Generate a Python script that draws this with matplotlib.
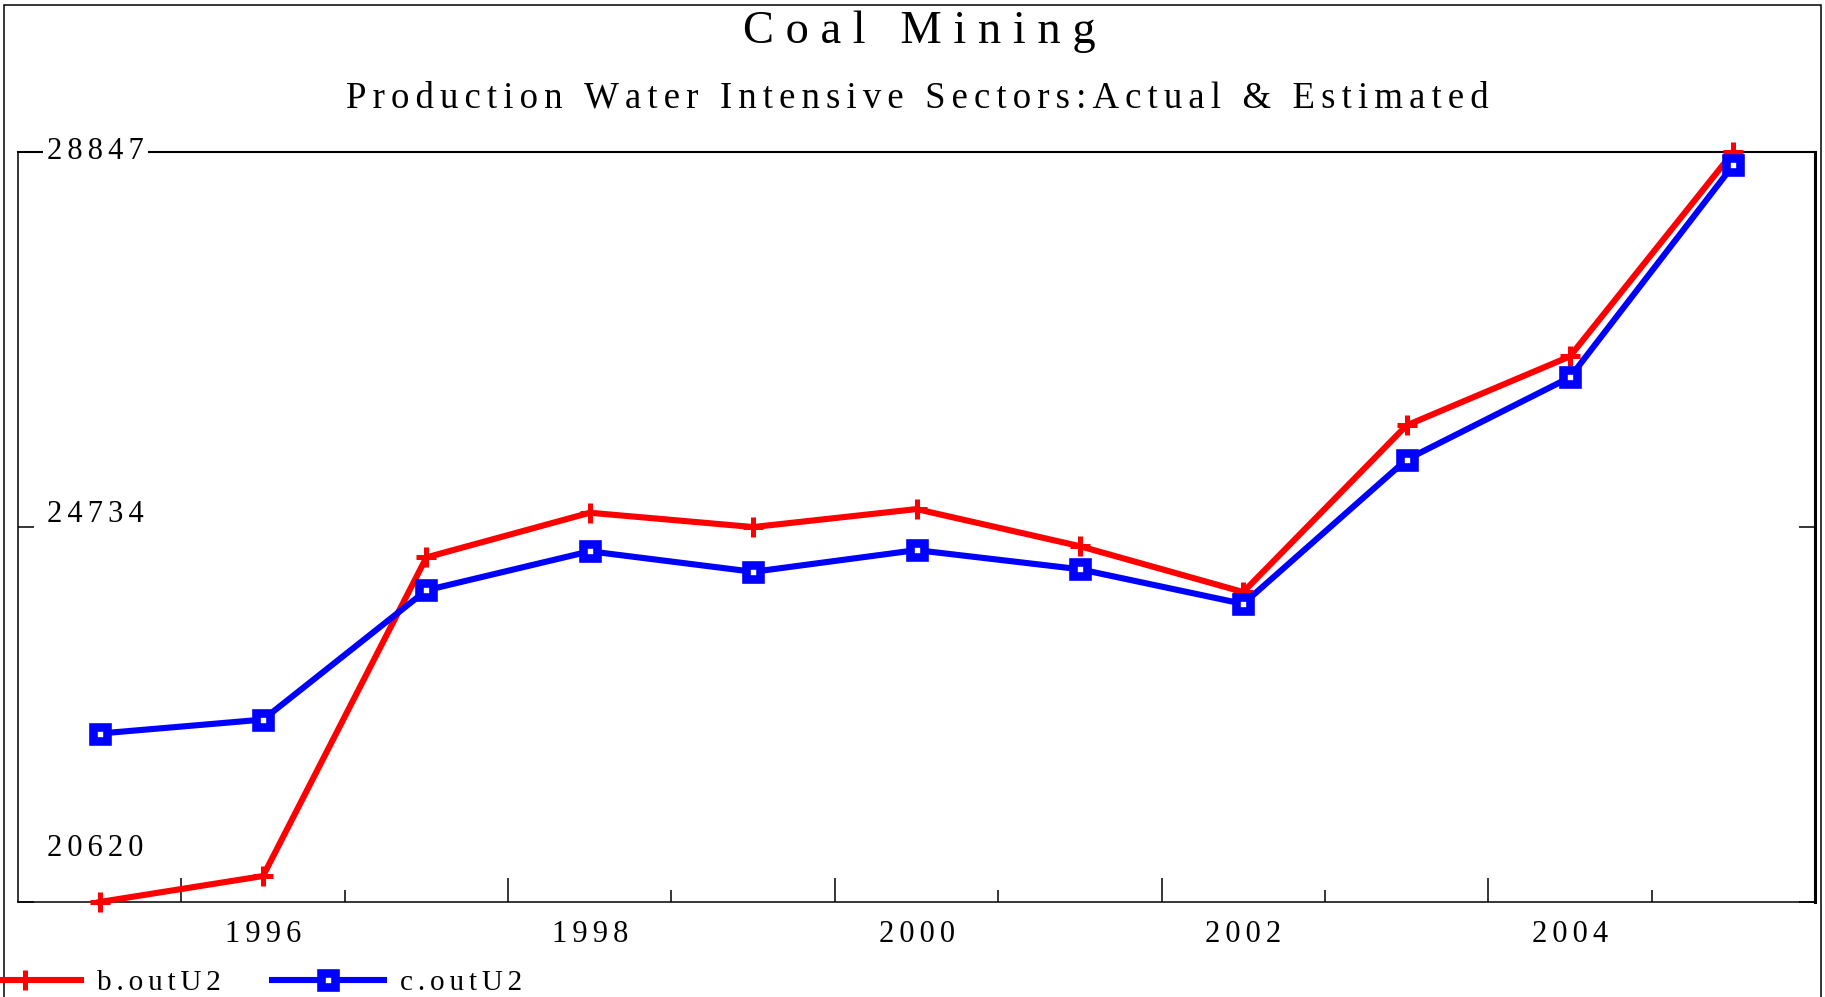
import matplotlib
matplotlib.use('Agg')
import matplotlib.pyplot as plt
import matplotlib.transforms as mtransforms
from matplotlib.patches import Rectangle

# data
years = [1995, 1996, 1997, 1998, 1999, 2000, 2001, 2002, 2003, 2004, 2005]
actual = [20620, 20905, 24400, 24890, 24733, 24930, 24523, 24020, 25848, 26605, 28847]
estimated = [22468, 22621, 24040, 24467, 24242, 24480, 24270, 23890, 25473, 26375, 28704]

y_ticks = [20620, 24734, 28847]
label_years = [1996, 1998, 2000, 2002, 2004]
long_ticks = [1995.5, 1997.5, 1999.5, 2001.5, 2003.5]
short_ticks = [1996.5, 1998.5, 2000.5, 2002.5, 2004.5]

plt.rcParams['font.family'] = ['Liberation Serif', 'DejaVu Serif']


def spaced(s, gap='\u2006'):
    # fake the wide letter spacing of the original
    return gap.join(s)


W, H = 1825, 997
fig = plt.figure(figsize=(W / 100, H / 100), dpi=100)
ax = fig.add_axes([18 / W, 1 - 902 / H, (1815 - 18) / W, (902 - 152) / H])

ax.plot(years, actual, color='red', lw=4.4, marker='+', ms=15, mew=3.6,
        clip_on=False, zorder=3, label=spaced('b.outU2'))
ax.plot(years, estimated, color='blue', lw=4.4, marker='s', ms=9.5, mew=6.2,
        mfc='white', mec='blue', clip_on=False, zorder=4, label=spaced('c.outU2'))

ax.set_xlim(1994.5, 2005.5)
ax.set_ylim(y_ticks[0], y_ticks[-1])

# x ticks: long and short marks between years, labels on the years
ax.set_xticks(long_ticks)
ax.set_xticks(short_ticks, minor=True)
ax.tick_params(axis='x', which='major', direction='in', length=17.3, width=1.1,
               labelbottom=False)
ax.tick_params(axis='x', which='minor', direction='in', length=8.3, width=1.1)

sec = ax.secondary_xaxis('bottom')
sec.set_xticks(label_years, labels=[spaced(str(y)) for y in label_years])
sec.tick_params(length=0, pad=13, labelsize=22)
for sp in sec.spines.values():
    sp.set_visible(False)

# y ticks on both sides, labels drawn as text inside the frame
ax.set_yticks(y_ticks)
ax.tick_params(axis='y', direction='in', length=11.5, width=1.1, labelleft=False,
               right=True)

ytrans = ax.get_yaxis_transform()
ax.text(0, y_ticks[2], spaced(str(y_ticks[2])), fontsize=22, va='center', ha='left',
        transform=mtransforms.offset_copy(ytrans, fig=fig, x=29, y=0, units='dots'),
        bbox=dict(fc='white', ec='none', pad=3), zorder=6, clip_on=False)
ax.text(0, y_ticks[1], spaced(str(y_ticks[1])), fontsize=22, va='baseline', ha='left',
        transform=mtransforms.offset_copy(ytrans, fig=fig, x=29, y=5, units='dots'))
ax.text(0, y_ticks[0], spaced(str(y_ticks[0])), fontsize=22, va='baseline', ha='left',
        transform=mtransforms.offset_copy(ytrans, fig=fig, x=29, y=46, units='dots'))

ax.spines['left'].set_linewidth(1.1)
ax.spines['bottom'].set_linewidth(1.1)
ax.spines['top'].set_linewidth(1.5)
ax.spines['right'].set_linewidth(2.2)

# titles
fig.text(919 / W, 1 - 43 / H, spaced('Coal Mining', '\u2005'), fontsize=33.5,
         ha='center', va='baseline')
fig.text(917 / W, 1 - 108 / H,
         spaced('Production Water Intensive Sectors:Actual & Estimated'),
         fontsize=26.5, ha='center', va='baseline')

# outer frame
fig.add_artist(Rectangle((4 / W, -0.05), (1821 - 4) / W, 1.05 - 5 / H,
                         transform=fig.transFigure, fill=False, ec='black', lw=1.1))

fig.legend(loc='center left', bbox_to_anchor=(-31 / W, 1 - 983 / H), ncol=2,
           frameon=False, fontsize=21, handlelength=3.84, handletextpad=0.55,
           columnspacing=1.75, borderpad=0, borderaxespad=0)

fig.savefig('out.png', dpi=100)
